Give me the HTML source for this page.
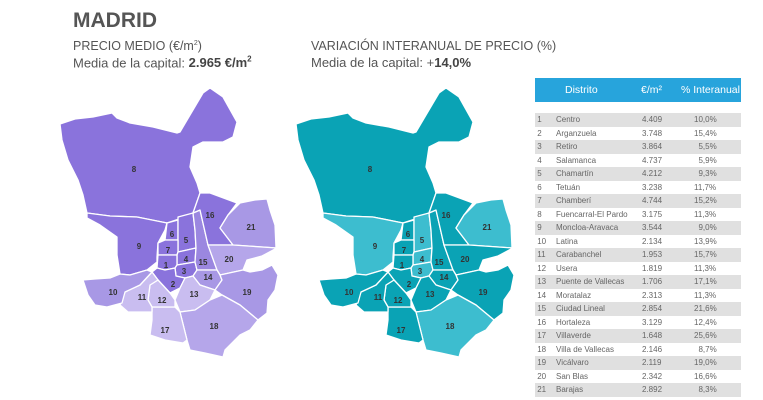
<!DOCTYPE html><html><head><meta charset="utf-8"><style>
body{margin:0;width:763px;height:400px;background:#fff;font-family:"Liberation Sans",sans-serif;position:relative;overflow:hidden;color:#555}
.t{position:absolute;white-space:nowrap}
table{position:absolute;left:535px;top:113px;width:206px;border-collapse:collapse;font-size:8px;color:#666}
td{height:13.5px;padding:0}
tr:nth-child(odd){background:#e0e0e0}
</style></head><body>
<div class="t" style="left:73px;top:9px;font-size:21px;font-weight:bold;color:#555">MADRID</div>
<div class="t" style="left:73px;top:39px;font-size:12.5px;color:#555">PRECIO MEDIO (€/m<sup style="font-size:7px">2</sup>)</div>
<div class="t" style="left:73px;top:55px;font-size:13px;color:#555">Media de la capital: <b style="color:#444">2.965 €/m<sup style="font-size:8px">2</sup></b></div>
<div class="t" style="left:311px;top:39px;font-size:12.5px;color:#555">VARIACIÓN INTERANUAL DE PRECIO (%)</div>
<div class="t" style="left:311px;top:55px;font-size:13px;color:#555">Media de la capital: +<b style="color:#444">14,0%</b></div>
<div style="position:absolute;left:535px;top:78px;width:206px;height:24px;background:#27a4dc;color:#fff;font-size:10.5px">
<span class="t" style="left:30px;top:6px">Distrito</span><span class="t" style="left:106px;top:6px">€/m²</span><span class="t" style="left:146px;top:6px">% Interanual</span></div>
<table>
<colgroup><col style="width:21px"><col style="width:86px"><col style="width:52px"><col></colgroup>
<tr><td>&nbsp;1</td><td>Centro</td><td>4.409</td><td>10,0%</td></tr>
<tr><td>&nbsp;2</td><td>Arganzuela</td><td>3.748</td><td>15,4%</td></tr>
<tr><td>&nbsp;3</td><td>Retiro</td><td>3.864</td><td>&nbsp;&nbsp;5,5%</td></tr>
<tr><td>&nbsp;4</td><td>Salamanca</td><td>4.737</td><td>&nbsp;&nbsp;5,9%</td></tr>
<tr><td>&nbsp;5</td><td>Chamartín</td><td>4.212</td><td>&nbsp;&nbsp;9,3%</td></tr>
<tr><td>&nbsp;6</td><td>Tetuán</td><td>3.238</td><td>11,7%</td></tr>
<tr><td>&nbsp;7</td><td>Chamberí</td><td>4.744</td><td>15,2%</td></tr>
<tr><td>&nbsp;8</td><td>Fuencarral-El Pardo</td><td>3.175</td><td>11,3%</td></tr>
<tr><td>&nbsp;9</td><td>Moncloa-Aravaca</td><td>3.544</td><td>&nbsp;&nbsp;9,0%</td></tr>
<tr><td>&nbsp;10</td><td>Latina</td><td>2.134</td><td>13,9%</td></tr>
<tr><td>&nbsp;11</td><td>Carabanchel</td><td>1.953</td><td>15,7%</td></tr>
<tr><td>&nbsp;12</td><td>Usera</td><td>1.819</td><td>11,3%</td></tr>
<tr><td>&nbsp;13</td><td>Puente de Vallecas</td><td>1.706</td><td>17,1%</td></tr>
<tr><td>&nbsp;14</td><td>Moratalaz</td><td>2.313</td><td>11,3%</td></tr>
<tr><td>&nbsp;15</td><td>Ciudad Lineal</td><td>2.854</td><td>21,6%</td></tr>
<tr><td>&nbsp;16</td><td>Hortaleza</td><td>3.129</td><td>12,4%</td></tr>
<tr><td>&nbsp;17</td><td>Villaverde</td><td>1.648</td><td>25,6%</td></tr>
<tr><td>&nbsp;18</td><td>Villa de Vallecas</td><td>2.146</td><td>&nbsp;&nbsp;8,7%</td></tr>
<tr><td>&nbsp;19</td><td>Vicálvaro</td><td>2.119</td><td>19,0%</td></tr>
<tr><td>&nbsp;20</td><td>San Blas</td><td>2.342</td><td>16,6%</td></tr>
<tr><td>&nbsp;21</td><td>Barajas</td><td>2.892</td><td>&nbsp;&nbsp;8,3%</td></tr>
</table>
<svg width="763" height="400" style="position:absolute;left:0;top:0">
<g id="L">
<g stroke="#fff" stroke-width="1.3" stroke-linejoin="round">
<polygon fill="#8a73dc" points="60,124 75,119 93,117 112,113 117,118 130,123 153,127 177,133 180,132 190,115 203,93 210,88 223,97 237,122 233,137 223,142 203,142 193,147 190,167 197,183 200,193 193,213 185,217 167,223 137,217 110,216 87,213 83,195 78,180 68,160 62,140"/>
<polygon fill="#8a73dc" points="87,213 110,216 137,217 167,223 165,230 158,243 157,257 157,262 147,270 130,275 120,274 117,255 117,237 100,225 87,218"/>
<polygon fill="#8a73dc" points="167,223 178,220 178,240 165,240"/>
<polygon fill="#8a73dc" points="178,217 193,213 195,230 196,248 178,252 178,240"/>
<polygon fill="#8a73dc" points="158,243 165,240 178,240 178,252 177,255 158,255"/>
<polygon fill="#8a73dc" points="178,252 196,248 195,262 177,265 177,255"/>
<polygon fill="#8a73dc" points="158,255 177,255 177,265 175,268 165,270 157,268"/>
<polygon fill="#8a73dc" points="177,265 195,262 197,270 193,276 185,278 176,276 175,268"/>
<polygon fill="#8a73dc" points="157,268 165,270 175,268 176,276 185,278 180,288 170,293 158,280 152,272"/>
<polygon fill="#9b87e0" points="193,213 200,210 208,245 217,270 197,270 195,262 196,248 195,230"/>
<polygon fill="#8a73dc" points="200,193 210,193 237,203 228,215 220,228 233,245 208,245 200,210 193,213"/>
<polygon fill="#a898e5" points="240,203 255,200 267,199 270,210 275,225 276,248 233,245 220,228 228,215"/>
<polygon fill="#b5a6ea" points="208,245 233,245 277,248 262,256 247,260 243,270 220,275 217,270"/>
<polygon fill="#a898e5" points="197,270 217,270 220,275 222,280 215,290 200,285 193,276"/>
<polygon fill="#c9bdf0" points="185,278 193,276 200,285 215,290 210,300 195,310 180,312 175,300 180,288"/>
<polygon fill="#a898e5" points="220,275 243,270 250,272 262,270 272,265 278,275 275,290 268,300 267,313 258,320 240,305 222,295 215,290 222,280"/>
<polygon fill="#b5a6ea" points="180,312 195,310 210,300 222,295 240,305 258,320 250,330 240,335 225,350 223,357 205,353 190,350 187,340"/>
<polygon fill="#c9bdf0" points="152,307 175,307 180,312 187,340 183,343 165,340 150,335 152,320"/>
<polygon fill="#c9bdf0" points="150,285 158,280 170,293 175,300 175,307 152,307 148,300"/>
<polygon fill="#c9bdf0" points="125,292 140,285 152,272 158,280 150,285 148,300 152,307 152,312 128,312 120,305"/>
<polygon fill="#a898e5" points="83,280 95,279 110,278 120,274 130,275 147,270 152,272 140,285 125,292 122,303 107,307 95,305 88,295"/>
</g>
<g font-size="8" font-weight="bold" fill="#333" text-anchor="middle" font-family="Liberation Sans,sans-serif">
<text x="134" y="172">8</text><text x="139" y="249">9</text><text x="172" y="237">6</text><text x="186" y="243">5</text><text x="168" y="253">7</text><text x="186" y="262">4</text><text x="166" y="268">1</text><text x="184" y="274">3</text><text x="173" y="287">2</text><text x="203" y="265">15</text><text x="208" y="280">14</text><text x="194" y="297">13</text><text x="229" y="262">20</text><text x="247" y="295">19</text><text x="214" y="329">18</text><text x="165" y="333">17</text><text x="210" y="218">16</text><text x="251" y="230">21</text><text x="113" y="295">10</text><text x="142" y="300">11</text><text x="162" y="303">12</text>
</g></g>
<g transform="translate(236,0)">
<g stroke="#fff" stroke-width="1.3" stroke-linejoin="round">
<polygon fill="#0aa3b5" points="60,124 75,119 93,117 112,113 117,118 130,123 153,127 177,133 180,132 190,115 203,93 210,88 223,97 237,122 233,137 223,142 203,142 193,147 190,167 197,183 200,193 193,213 185,217 167,223 137,217 110,216 87,213 83,195 78,180 68,160 62,140"/>
<polygon fill="#3dbdcf" points="87,213 110,216 137,217 167,223 165,230 158,243 157,257 157,262 147,270 130,275 120,274 117,255 117,237 100,225 87,218"/>
<polygon fill="#0aa3b5" points="167,223 178,220 178,240 165,240"/>
<polygon fill="#3dbdcf" points="178,217 193,213 195,230 196,248 178,252 178,240"/>
<polygon fill="#0aa3b5" points="158,243 165,240 178,240 178,252 177,255 158,255"/>
<polygon fill="#3dbdcf" points="178,252 196,248 195,262 177,265 177,255"/>
<polygon fill="#0aa3b5" points="158,255 177,255 177,265 175,268 165,270 157,268"/>
<polygon fill="#3dbdcf" points="177,265 195,262 197,270 193,276 185,278 176,276 175,268"/>
<polygon fill="#0aa3b5" points="157,268 165,270 175,268 176,276 185,278 180,288 170,293 158,280 152,272"/>
<polygon fill="#0aa3b5" points="193,213 200,210 208,245 217,270 197,270 195,262 196,248 195,230"/>
<polygon fill="#0aa3b5" points="200,193 210,193 237,203 228,215 220,228 233,245 208,245 200,210 193,213"/>
<polygon fill="#3dbdcf" points="240,203 255,200 267,199 270,210 275,225 276,248 233,245 220,228 228,215"/>
<polygon fill="#0aa3b5" points="208,245 233,245 277,248 262,256 247,260 243,270 220,275 217,270"/>
<polygon fill="#0aa3b5" points="197,270 217,270 220,275 222,280 215,290 200,285 193,276"/>
<polygon fill="#0aa3b5" points="185,278 193,276 200,285 215,290 210,300 195,310 180,312 175,300 180,288"/>
<polygon fill="#0aa3b5" points="220,275 243,270 250,272 262,270 272,265 278,275 275,290 268,300 267,313 258,320 240,305 222,295 215,290 222,280"/>
<polygon fill="#3dbdcf" points="180,312 195,310 210,300 222,295 240,305 258,320 250,330 240,335 225,350 223,357 205,353 190,350 187,340"/>
<polygon fill="#0aa3b5" points="152,307 175,307 180,312 187,340 183,343 165,340 150,335 152,320"/>
<polygon fill="#0aa3b5" points="150,285 158,280 170,293 175,300 175,307 152,307 148,300"/>
<polygon fill="#0aa3b5" points="125,292 140,285 152,272 158,280 150,285 148,300 152,307 152,312 128,312 120,305"/>
<polygon fill="#0aa3b5" points="83,280 95,279 110,278 120,274 130,275 147,270 152,272 140,285 125,292 122,303 107,307 95,305 88,295"/>
</g>
<g font-size="8" font-weight="bold" fill="#333" text-anchor="middle" font-family="Liberation Sans,sans-serif">
<text x="134" y="172">8</text><text x="139" y="249">9</text><text x="172" y="237">6</text><text x="186" y="243">5</text><text x="168" y="253">7</text><text x="186" y="262">4</text><text x="166" y="268">1</text><text x="184" y="274">3</text><text x="173" y="287">2</text><text x="203" y="265">15</text><text x="208" y="280">14</text><text x="194" y="297">13</text><text x="229" y="262">20</text><text x="247" y="295">19</text><text x="214" y="329">18</text><text x="165" y="333">17</text><text x="210" y="218">16</text><text x="251" y="230">21</text><text x="113" y="295">10</text><text x="142" y="300">11</text><text x="162" y="303">12</text>
</g></g>
</svg>
</body></html>
